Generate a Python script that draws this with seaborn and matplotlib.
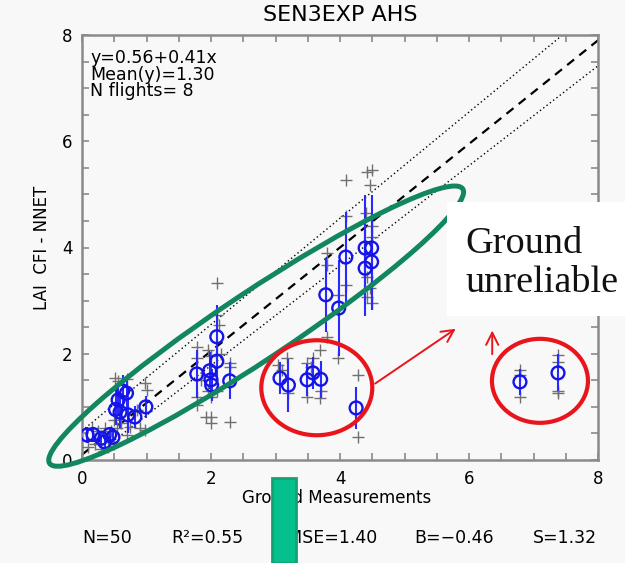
import numpy as np
import pandas as pd
import matplotlib
matplotlib.use("Agg")
import matplotlib.pyplot as plt
import seaborn as sns
from matplotlib.patches import Ellipse, Rectangle
from matplotlib.transforms import ScaledTranslation
from matplotlib.ticker import MultipleLocator

# ---------------- data ----------------
ground_x = [0.08, 0.17, 0.30, 0.35, 0.43, 0.48,
            0.52, 0.56, 0.63, 0.69, 0.59, 0.71, 0.82, 0.99,
            1.78, 1.98, 2.00, 2.01, 2.09, 2.09, 2.29,
            3.78, 3.98, 4.09, 4.39, 4.49, 4.49, 4.39,
            3.07, 3.20, 3.49, 3.58, 3.70, 4.25,
            6.79, 7.38]
lai_y = [0.47, 0.48, 0.41, 0.34, 0.48, 0.43,
         0.95, 1.13, 1.30, 1.26, 0.90, 0.85, 0.81, 1.00,
         1.62, 1.68, 1.51, 1.41, 1.86, 2.32, 1.49,
         3.11, 2.86, 3.82, 3.99, 3.99, 3.73, 3.61,
         1.54, 1.41, 1.51, 1.64, 1.52, 0.98,
         1.47, 1.64]
lai_err = [0.15, 0.12, 0.12, 0.10, 0.12, 0.10,
           0.30, 0.30, 0.30, 0.30, 0.30, 0.35, 0.20, 0.20,
           0.45, 0.35, 0.30, 0.30, 0.40, 0.60, 0.35,
           0.70, 0.90, 0.85, 1.00, 1.00, 0.90, 0.90,
           0.30, 0.50, 0.30, 0.30, 0.35, 0.40,
           0.25, 0.35]

plus_x = [0.10, 0.15, 0.20, 0.25, 0.30, 0.35, 0.40, 0.45, 0.50, 0.55,
          0.51, 0.56, 0.69, 0.97, 1.00, 0.70, 0.75, 0.97, 0.60, 0.85, 0.50, 0.90,
          2.09, 2.09, 2.12, 1.78, 1.78, 1.78, 1.78, 1.95, 2.00, 2.00, 2.00, 2.00,
          1.92, 2.29, 2.29, 2.29, 2.15, 2.10, 1.85, 1.95,
          4.10, 4.42, 4.50, 4.47, 3.80, 3.80, 3.80, 3.97, 3.97, 4.42, 4.47,
          4.42, 4.50, 4.10, 4.40, 4.50, 4.50, 4.10,
          3.18, 3.20, 3.04, 3.49, 3.49, 3.58, 3.69, 3.69, 4.28, 4.28, 3.10,
          3.55, 3.70,
          6.79, 6.79, 7.38, 7.38, 6.79, 7.38, 7.38]
plus_y = [0.25, 0.60, 0.30, 0.55, 0.20, 0.60, 0.25, 0.55, 0.30, 0.60,
          1.54, 1.48, 1.52, 1.45, 1.32, 0.48, 0.63, 0.57, 0.70, 0.95, 0.75, 0.60,
          3.33, 2.73, 2.55, 2.13, 1.92, 1.19, 1.04, 2.07, 1.95, 1.19, 0.81, 0.70,
          0.81, 1.83, 1.75, 0.72, 2.00, 1.30, 1.50, 1.30,
          5.27, 5.42, 5.46, 5.18, 3.90, 3.67, 2.32, 3.11, 1.92, 3.45, 3.24,
          3.07, 2.96, 4.60, 4.65, 4.40, 4.20, 3.30,
          1.92, 1.26, 1.79, 1.83, 1.19, 1.92, 2.07, 1.17, 1.60, 0.43, 1.70,
          1.75, 1.30,
          1.69, 1.19, 1.98, 1.26, 1.60, 1.85, 1.30]

line_x = [0, 8]
dashed_y = [0.10, 7.90]
upper_y = [0.55, 8.55]
lower_y = [-0.10, 7.42]

x_ticks = [0, 2, 4, 6, 8]
y_ticks = [0, 2, 4, 6, 8]
title = "SEN3EXP AHS"
x_label = "Ground Measurements"
y_label = "LAI  CFI - NNET"
info_lines = ["y=0.56+0.41x", "Mean(y)=1.30", "N flights= 8"]
stats_labels = ["N=50", "R²=0.55", "RMSE=1.40", "B=−0.46", "S=1.32"]
note_lines = ["Ground", "unreliable"]

df_pts = pd.DataFrame({"x": ground_x, "y": lai_y, "err": lai_err})
df_plus = pd.DataFrame({"x": plus_x, "y": plus_y})

# ---------------- figure ----------------
W, H = 625, 563
bg = "#f8f8f8"
fig = plt.figure(figsize=(W / 100, H / 100), dpi=100, facecolor=bg)
ax = fig.add_axes([82 / W, 103 / H, 516 / W, 425 / H])
ax.set_facecolor(bg)

sns.lineplot(x=line_x, y=dashed_y, ax=ax, color="black", lw=1.6,
             linestyle=(0, (4, 3)), zorder=2)
sns.lineplot(x=line_x, y=upper_y, ax=ax, color="black", lw=1.0,
             linestyle=(0, (1, 2)), zorder=2)
sns.lineplot(x=line_x, y=lower_y, ax=ax, color="black", lw=1.0,
             linestyle=(0, (1, 2)), zorder=2)

sns.scatterplot(data=df_plus, x="x", y="y", ax=ax, marker="+", s=65,
                color="#707070", linewidth=1.0, zorder=3)
ax.vlines(df_pts["x"], df_pts["y"] - df_pts["err"], df_pts["y"] + df_pts["err"],
          color="#2a2aff", lw=1.5, zorder=4)
sns.scatterplot(data=df_pts, x="x", y="y", ax=ax, marker="o", s=85,
                facecolors="none", edgecolor="#1414e6", linewidth=1.7, zorder=5)

ax.set_xlim(0, 8)
ax.set_ylim(0, 8)
ax.set_xticks(x_ticks)
ax.set_yticks(y_ticks)
ax.xaxis.set_minor_locator(MultipleLocator(0.5))
ax.yaxis.set_minor_locator(MultipleLocator(0.5))
ax.tick_params(which="both", direction="in", length=5, width=1.2,
               color="#8a8a8a", top=True, right=True, labelsize=12, pad=7)
ax.set_xlabel("")
ax.set_ylabel("")
for s in ax.spines.values():
    s.set_color("#8a8a8a")
    s.set_linewidth(1.8)

# Texts
fig.text(340 / W, 1 - 15 / H, title, ha="center", va="center", fontsize=16)
for i, t in enumerate(info_lines):
    fig.text(90 / W, 1 - (58 + 16.5 * i) / H, t, ha="left", va="center", fontsize=12.5)
fig.text(337 / W, 1 - 498 / H, x_label, ha="center", va="center", fontsize=12)
fig.text(42 / W, 1 - 248 / H, y_label, ha="center", va="center",
         rotation=90, fontsize=12)
for cx, t in zip([107, 207, 326, 454, 565], stats_labels):
    fig.text(cx / W, 1 - 538 / H, t, ha="center", va="center", fontsize=12.5)

# Ellipses (annotation shapes)
def add_ellipse(center, w_px, h_px, angle, color, lw):
    tr = fig.dpi_scale_trans + ScaledTranslation(center[0], center[1], ax.transData)
    e = Ellipse((0, 0), w_px / 100, h_px / 100, angle=angle, fill=False,
                edgecolor=color, lw=lw, transform=tr, clip_on=False, zorder=6)
    ax.add_patch(e)

green = "#12875f"
red = "#e8161c"
add_ellipse((2.70, 2.52), 496, 68, 33.6, green, 3.6)
add_ellipse((3.64, 1.36), 111, 95, 0, red, 3.0)
add_ellipse((7.10, 1.49), 96, 84, 0, red, 3.0)

# Arrows
ax.annotate("", xy=(5.83, 2.50), xytext=(4.51, 1.41),
            arrowprops=dict(arrowstyle="->", color=red, lw=1.4, mutation_scale=22),
            annotation_clip=False, zorder=6)
ax.annotate("", xy=(6.36, 2.49), xytext=(6.36, 1.94),
            arrowprops=dict(arrowstyle="->", color=red, lw=1.4, mutation_scale=22),
            annotation_clip=False, zorder=6)

# White note box
fig.patches.append(Rectangle((447 / W, 1 - 316 / H), (W - 447) / W, 114 / H,
                             transform=fig.transFigure, facecolor="white",
                             edgecolor="none", zorder=10))
fig.text(465 / W, 1 - 253 / H, note_lines[0], ha="left", va="baseline",
         fontsize=27.5, family="Liberation Serif", color="#111111", zorder=11)
fig.text(465 / W, 1 - 292 / H, note_lines[1], ha="left", va="baseline",
         fontsize=27.5, family="Liberation Serif", color="#111111", zorder=11)

# Green bar at bottom
fig.patches.append(Rectangle((272 / W, 0), 24 / W, 85 / H,
                             transform=fig.transFigure, facecolor="#03c08c",
                             edgecolor="#17a074", lw=2, zorder=10))

fig.savefig("out.png", dpi=100, facecolor=bg)
